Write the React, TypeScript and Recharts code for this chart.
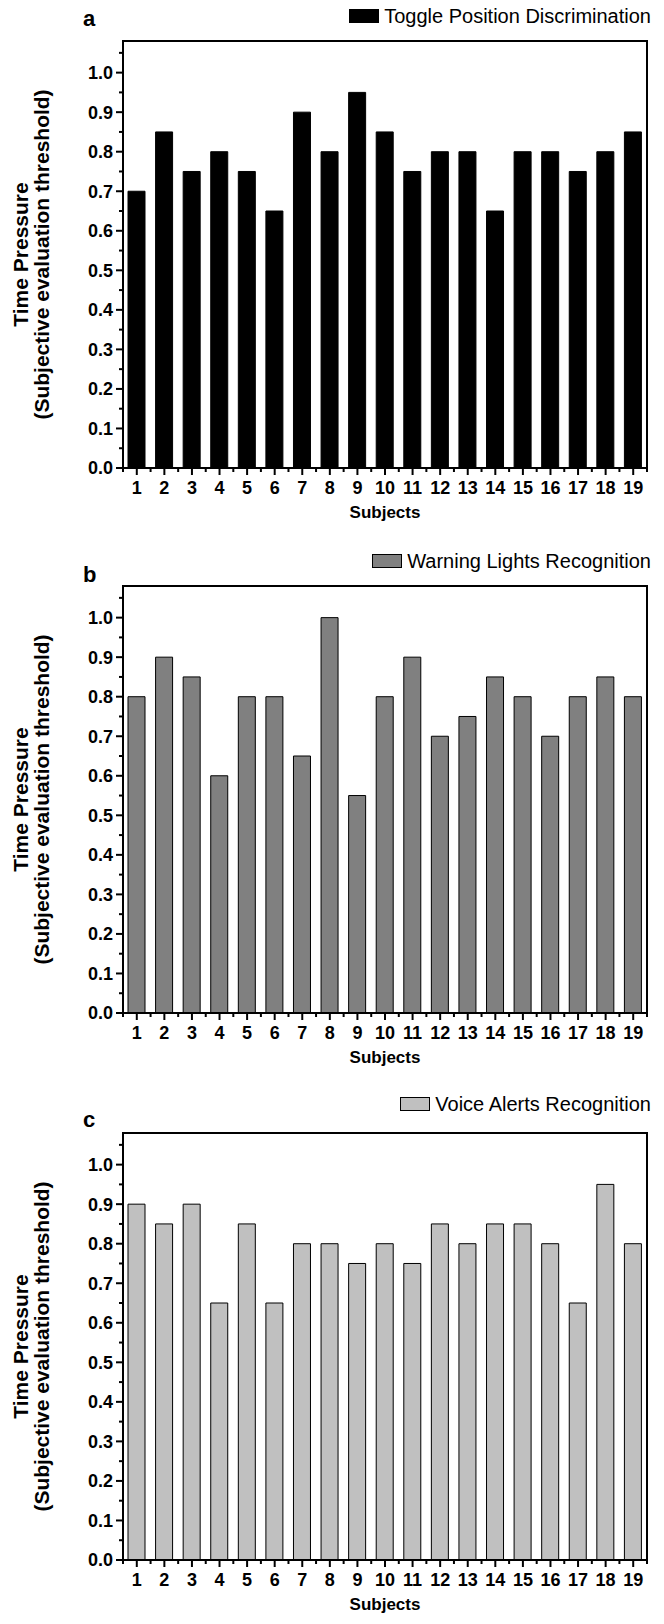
import { BarChart, Bar, XAxis, YAxis, Label } from "recharts";

const subjects = ["1", "2", "3", "4", "5", "6", "7", "8", "9", "10", "11", "12", "13", "14", "15", "16", "17", "18", "19"];

const togglePosition = [0.7, 0.85, 0.75, 0.8, 0.75, 0.65, 0.9, 0.8, 0.95, 0.85, 0.75, 0.8, 0.8, 0.65, 0.8, 0.8, 0.75, 0.8, 0.85];
const warningLights = [0.8, 0.9, 0.85, 0.6, 0.8, 0.8, 0.65, 1.0, 0.55, 0.8, 0.9, 0.7, 0.75, 0.85, 0.8, 0.7, 0.8, 0.85, 0.8];
const voiceAlerts = [0.9, 0.85, 0.9, 0.65, 0.85, 0.65, 0.8, 0.8, 0.75, 0.8, 0.75, 0.85, 0.8, 0.85, 0.85, 0.8, 0.65, 0.95, 0.8];

// major ticks get a label, the in-between ones are minor
const yTicks = [0, 0.05, 0.1, 0.15, 0.2, 0.25, 0.3, 0.35, 0.4, 0.45, 0.5, 0.55, 0.6, 0.65, 0.7, 0.75, 0.8, 0.85, 0.9, 0.95, 1.0, 1.05];

const W = 664;
const PLOT_LEFT = 123;
const PLOT_RIGHT = 647;
const PLOT_TOP = 41;
const PLOT_H = 427;
const BAND = (PLOT_RIGHT - PLOT_LEFT) / subjects.length;
const FONT = "'Liberation Sans', Arial, Helvetica, sans-serif";

const YTick = ({ x, y, payload }: any) => {
  const v = payload.value;
  const major = Math.abs(v * 10 - Math.round(v * 10)) < 1e-6;
  return (
    <g>
      <line x1={x} x2={x - (major ? 7 : 4)} y1={y} y2={y} stroke="#000" strokeWidth={2} />
      {major && (
        <text x={x - 10} y={y} dy="0.36em" textAnchor="end" fontFamily={FONT} fontWeight="bold" fontSize={18} fill="#000">
          {v.toFixed(1)}
        </text>
      )}
    </g>
  );
};

const XTick = ({ x, y, payload, index }: any) => (
  <g>
    <line x1={x} x2={x} y1={y} y2={y + 7} stroke="#000" strokeWidth={2} />
    <line x1={x + BAND / 2} x2={x + BAND / 2} y1={y} y2={y + 4} stroke="#000" strokeWidth={2} />
    {index === 0 && <line x1={x - BAND / 2} x2={x - BAND / 2} y1={y} y2={y + 4} stroke="#000" strokeWidth={2} />}
    <text x={x} y={y + 26} textAnchor="middle" fontFamily={FONT} fontWeight="bold" fontSize={18} fill="#000">
      {payload.value}
    </text>
  </g>
);

interface PanelProps {
  top: number;
  height: number;
  letter: string;
  letterY: number;
  legend: string;
  legendY: number;
  values: number[];
  fill: string;
}

const Panel = ({ top, height, letter, letterY, legend, legendY, values, fill }: PanelProps) => {
  const data = subjects.map((s, i) => ({ subject: s, value: values[i] }));
  const axisH = height - PLOT_TOP - PLOT_H;
  const cy = PLOT_TOP + PLOT_H / 2;
  return (
    <div style={{ position: "absolute", left: 0, top, width: W, height }}>
      <div
        style={{
          position: "absolute",
          left: 83,
          top: letterY - 21,
          fontFamily: FONT,
          fontWeight: "bold",
          fontSize: 22,
          lineHeight: "26px",
        }}
      >
        {letter}
      </div>
      <div
        style={{
          position: "absolute",
          right: W - 651,
          top: legendY - 11,
          height: 22,
          display: "flex",
          alignItems: "center",
          fontFamily: FONT,
          fontSize: 20,
        }}
      >
        <span
          style={{
            display: "inline-block",
            width: 30,
            height: 14,
            background: fill,
            border: "1px solid #000",
            boxSizing: "border-box",
            marginRight: 5,
          }}
        />
        <span>{legend}</span>
      </div>
      <BarChart
        width={W}
        height={height}
        data={data}
        margin={{ top: PLOT_TOP, right: W - PLOT_RIGHT, bottom: 0, left: 0 }}
        style={{ position: "absolute", left: 0, top: 0 }}
      >
        <XAxis
          dataKey="subject"
          height={axisH}
          interval={0}
          tickSize={0}
          tickMargin={0}
          tickLine={false}
          axisLine={{ stroke: "#000", strokeWidth: 2 }}
          tick={XTick}
        >
          <Label
            content={() => (
              <text
                x={(PLOT_LEFT + PLOT_RIGHT) / 2}
                y={PLOT_TOP + PLOT_H + 50}
                textAnchor="middle"
                fontFamily={FONT}
                fontWeight="bold"
                fontSize={17}
                fill="#000"
              >
                Subjects
              </text>
            )}
          />
        </XAxis>
        <YAxis
          width={PLOT_LEFT}
          domain={[0, 1.08]}
          ticks={yTicks}
          interval={0}
          tickSize={0}
          tickMargin={0}
          tickLine={false}
          axisLine={{ stroke: "#000", strokeWidth: 2 }}
          tick={YTick}
        >
          <Label
            content={() => (
              <g>
                <rect
                  x={PLOT_LEFT}
                  y={PLOT_TOP}
                  width={PLOT_RIGHT - PLOT_LEFT}
                  height={PLOT_H}
                  fill="none"
                  stroke="#000"
                  strokeWidth={2}
                />
                <g fontFamily={FONT} fontWeight="bold" fontSize={21} fill="#000">
                  <text x={20} y={cy} transform={`rotate(-90 20 ${cy})`} textAnchor="middle" dominantBaseline="central">
                    Time Pressure
                  </text>
                  <text x={41} y={cy} transform={`rotate(-90 41 ${cy})`} textAnchor="middle" dominantBaseline="central">
                    (Subjective evaluation threshold)
                  </text>
                </g>
              </g>
            )}
          />
        </YAxis>
        <Bar dataKey="value" fill={fill} stroke="#000" strokeWidth={1} barSize={17} isAnimationActive={false} />
      </BarChart>
    </div>
  );
};

export default function App() {
  return (
    <div style={{ position: "absolute", left: 0, top: 0, width: W, height: 1624, overflow: "hidden", background: "#fff" }}>
      <Panel top={0} height={545} letter="a" letterY={27} legend="Toggle Position Discrimination" legendY={16} values={togglePosition} fill="#000000" />
      <Panel top={545} height={547} letter="b" letterY={38} legend="Warning Lights Recognition" legendY={16} values={warningLights} fill="#808080" />
      <Panel top={1092} height={532} letter="c" letterY={36} legend="Voice Alerts Recognition" legendY={12} values={voiceAlerts} fill="#c0c0c0" />
    </div>
  );
}
